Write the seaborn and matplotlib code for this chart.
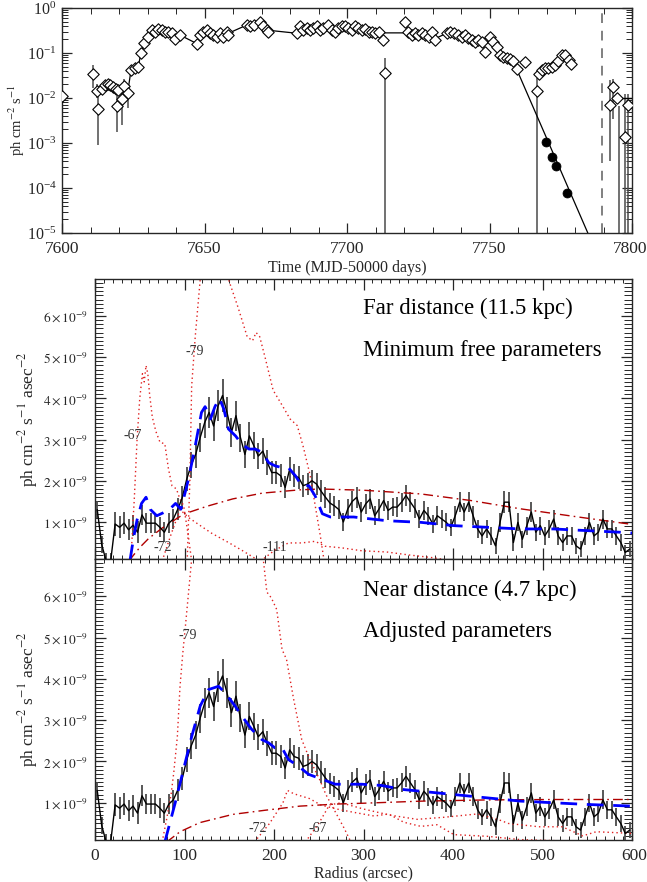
import numpy as np
import pandas as pd
import matplotlib
matplotlib.use("Agg")
import matplotlib.pyplot as plt
import matplotlib.transforms as mtransforms
import seaborn as sns
from matplotlib.ticker import MultipleLocator, FixedLocator, LogLocator, NullFormatter, FixedFormatter

# ---------------- data: light curve (top panel) ----------------
lc_time = [7600.0, 7611.0, 7612.2, 7612.7, 7613.9, 7615.0, 7616.0, 7617.0, 7618.0, 7619.0,
           7619.2, 7619.8, 7621.0, 7621.9, 7623.0, 7624.2, 7625.6, 7626.8, 7627.7, 7628.9,
           7630.1, 7631.7, 7632.6, 7633.8, 7635.0, 7636.1, 7637.3, 7638.5, 7639.7, 7641.4,
           7647.3, 7648.4, 7649.6, 7650.8, 7651.9, 7653.1, 7654.3, 7655.4, 7656.6, 7657.8,
           7658.4, 7664.8, 7666.0, 7667.2, 7669.5, 7670.6, 7671.8, 7672.4, 7682.3, 7683.5,
           7684.7, 7685.8, 7687.0, 7688.2, 7689.4, 7690.5, 7691.7, 7693.5, 7694.6, 7695.8,
           7697.0, 7698.2, 7699.3, 7700.5, 7701.7, 7702.9, 7704.0, 7705.2, 7706.4, 7707.6,
           7708.7, 7709.9, 7711.1, 7712.6, 7713.3, 7720.4, 7721.5, 7722.7, 7723.9, 7725.0,
           7726.2, 7727.4, 7728.6, 7729.7, 7730.9, 7735.0, 7736.2, 7737.4, 7739.1, 7740.3,
           7741.4, 7742.6, 7743.8, 7745.0, 7746.1, 7747.3, 7748.5, 7750.2, 7751.4, 7752.5,
           7753.7, 7754.9, 7756.1, 7757.2, 7758.4, 7759.5, 7762.5, 7766.6, 7767.2, 7768.4,
           7769.5, 7770.7, 7771.9, 7773.1, 7774.2, 7775.4, 7776.6, 7777.8, 7778.6, 7792.3,
           7793.5, 7794.6, 7797.6, 7798.5]
lc_flux = [0.0112, 0.034, 0.0145, 0.0056, 0.0162, 0.019, 0.020, 0.019, 0.0178, 0.0162,
           0.0066, 0.0148, 0.0093, 0.0186, 0.0126, 0.041, 0.046, 0.050, 0.102, 0.17,
           0.23, 0.32, 0.30, 0.34, 0.32, 0.30, 0.30, 0.275, 0.21, 0.25,
           0.162, 0.25, 0.30, 0.32, 0.275, 0.25, 0.23, 0.275, 0.23, 0.30,
           0.25, 0.417, 0.39, 0.417, 0.50, 0.39, 0.32, 0.295, 0.275, 0.39,
           0.32, 0.355, 0.32, 0.355, 0.39, 0.32, 0.355, 0.417, 0.32, 0.295,
           0.355, 0.39, 0.40, 0.355, 0.32, 0.39, 0.355, 0.32, 0.34, 0.295,
           0.295, 0.275, 0.295, 0.195, 0.036, 0.48, 0.295, 0.25, 0.275, 0.25,
           0.275, 0.25, 0.23, 0.295, 0.195, 0.275, 0.295, 0.275, 0.25, 0.23,
           0.25, 0.214, 0.195, 0.178, 0.195, 0.178, 0.107, 0.23, 0.178, 0.138,
           0.091, 0.083, 0.076, 0.072, 0.065, 0.044, 0.062, 0.0145, 0.035, 0.042,
           0.046, 0.046, 0.050, 0.054, 0.065, 0.091, 0.091, 0.069, 0.058, 0.0069,
           0.0178, 0.010, 0.00135, 0.0069]

# error bars drawn in the light curve
err_time = [7600.0, 7611.0, 7612.2, 7612.7, 7619.2, 7621.0, 7621.9, 7623.0, 7713.3, 7766.6,
            7792.3, 7793.5, 7795.6, 7797.6, 7798.5]
err_low = [0.008, 0.017, 0.010, 0.00091, 0.0018, 0.0025, 0.011, 0.006, 1e-6, 1e-6,
           0.00039, 0.0034, 1e-6, 1e-6, 1e-6]
err_high = [0.015, 0.054, 0.020, 0.0105, 0.011, 0.014, 0.027, 0.019, 0.076, 0.0275,
            0.025, 0.027, 0.0065, 0.012, 0.012]

# connecting curve through the light curve (incl. decay)
curve_time = [7612.2, 7614.0, 7617.0, 7620.0, 7622.0, 7623.0, 7624.2, 7626.8, 7627.7, 7628.9,
              7630.1, 7631.7, 7635.0, 7638.5, 7641.4, 7647.3, 7649.6, 7653.0, 7658.4, 7664.8,
              7669.5, 7672.4, 7682.3, 7690.0, 7700.0, 7705.0, 7711.0, 7721.0, 7729.7, 7731.0,
              7735.0, 7745.0, 7750.0, 7754.0, 7758.4, 7759.5, 7784.5]
curve_flux = [0.0145, 0.0162, 0.019, 0.0158, 0.014, 0.0126, 0.041, 0.050, 0.102, 0.17,
              0.23, 0.32, 0.32, 0.275, 0.25, 0.162, 0.30, 0.26, 0.275, 0.417,
              0.45, 0.32, 0.275, 0.34, 0.36, 0.33, 0.28, 0.28, 0.28, 0.21,
              0.275, 0.19, 0.22, 0.10, 0.065, 0.044, 1.0e-5]
tail_time = [7794.6, 7800.0]
tail_flux = [0.010, 0.010]

# filled circles (decay)
dot_time = [7769.8, 7771.8, 7773.2, 7777.3]
dot_flux = [0.00107, 0.00048, 0.00031, 0.000076]

marker_time = 7789.6

# ---------------- data: radial profiles (units of 1e-9) ----------------
profile = [1.30, 0.45, 0.05, 0.05, 0.95, 0.87, 0.97, 0.81, 0.92, 0.75,
           1.17, 0.97, 0.97, 0.97, 0.87, 0.75, 0.97, 1.07, 1.31, 1.59,
           2.04, 2.38, 2.64, 3.05, 3.41, 3.66, 3.33, 3.82, 4.07, 3.66,
           3.18, 3.58, 3.05, 2.64, 3.09, 2.85, 2.60, 2.72, 2.44, 2.20,
           2.20, 2.12, 1.84, 2.28, 2.12, 2.08, 1.88, 1.92, 2.00, 1.92,
           1.75, 1.60, 1.46, 1.39, 1.30, 1.00, 1.32, 1.50, 1.60,
           1.24, 1.44, 1.56, 1.15, 1.32, 1.52, 1.28, 1.36, 1.36, 1.48,
           1.64, 1.48, 1.32, 1.07, 1.28, 1.15, 0.95, 1.15, 1.07, 0.99,
           0.87, 1.15, 1.48, 1.24, 1.48, 1.15, 0.83, 0.66, 0.83, 0.66,
           0.42, 0.99, 1.48, 1.48, 0.50, 0.99, 0.58, 0.91, 1.24, 0.75,
           0.91, 0.66, 0.83, 1.07, 0.66, 0.50, 0.66, 0.66, 0.42, 0.34,
           0.66, 0.99, 0.66, 0.75, 1.07, 0.83, 0.83, 0.66, 0.50, 0.26,
           0.34]
profile_err = [0.20, 0.20, 0.20, 0.20, 0.28, 0.27, 0.27, 0.26, 0.26, 0.27,
               0.25, 0.25, 0.25, 0.24, 0.24, 0.24, 0.24, 0.25, 0.26, 0.28,
               0.30, 0.32, 0.33, 0.35, 0.36, 0.37, 0.36, 0.38, 0.40, 0.37,
               0.35, 0.36, 0.34, 0.32, 0.34, 0.33, 0.31, 0.32, 0.30, 0.29,
               0.29, 0.28, 0.27, 0.29, 0.28, 0.28, 0.27, 0.27, 0.27, 0.27,
               0.26, 0.25, 0.25, 0.25, 0.24, 0.22, 0.24, 0.25, 0.25,
               0.24, 0.25, 0.24, 0.23, 0.24, 0.25, 0.23, 0.22, 0.24, 0.23,
               0.25, 0.24, 0.23, 0.22, 0.24, 0.22, 0.21, 0.23, 0.22, 0.22,
               0.21, 0.23, 0.25, 0.22, 0.24, 0.23, 0.21, 0.20, 0.22, 0.21,
               0.20, 0.23, 0.26, 0.25, 0.21, 0.22, 0.21, 0.22, 0.24, 0.21,
               0.22, 0.21, 0.22, 0.23, 0.21, 0.20, 0.21, 0.21, 0.20, 0.19,
               0.21, 0.22, 0.21, 0.21, 0.23, 0.22, 0.21, 0.21, 0.20, 0.19,
               0.19]
radius = np.arange(2.5, 600.0, 5.0)

# far-distance model (middle panel)
far_total_r = [39, 43, 47, 52, 57, 62, 69, 76, 83, 90, 96, 104.5, 112, 119, 123, 129, 134, 139,
               144, 149, 157, 164, 172, 179, 187, 194, 201.5, 209, 216, 224, 231, 239, 246, 254,
               263, 289, 326, 364, 401, 438, 475, 512, 549, 587, 600]
far_total_v = [0.05, 0.6, 1.05, 1.45, 1.6, 1.3, 1.15, 1.22, 1.3, 1.45, 1.31, 2.04, 2.85, 3.66,
               3.8, 3.5, 3.8, 4.0, 3.74, 3.26, 3.09, 2.89, 2.77, 2.77, 2.69, 2.44, 2.36, 2.32,
               2.32, 2.12, 1.88, 1.88, 1.63, 1.2, 1.12, 1.12, 1.03, 0.99, 0.91, 0.87, 0.83, 0.83,
               0.79, 0.75, 0.73]
far_bg_r = [38, 42.5, 50, 60, 75, 99, 125, 154, 187, 229, 252, 300, 364, 420, 475, 540, 600]
far_bg_v = [0.05, 0.18, 0.38, 0.6, 0.85, 1.19, 1.38, 1.56, 1.7, 1.78, 1.8, 1.77, 1.68, 1.52,
            1.32, 1.12, 0.94]
far_c67_r = [40, 44, 47, 50, 53, 55, 57, 59, 61, 64, 68, 72.7, 78, 82, 86, 91, 95, 99, 104, 108]
far_c67_v = [0.05, 1.6, 3.0, 4.0, 4.6, 4.4, 4.8, 4.6, 4.1, 3.55, 3.2, 2.93, 2.9, 2.3, 1.88,
             1.8, 1.55, 1.4, 0.7, 0.05]
far_c79_r = [103, 106, 108, 112, 116, 120, 130, 140, 149, 160, 170, 176, 180, 184, 190, 199,
             210, 218, 226, 233, 240.5, 246, 251.7, 256]
far_c79_v = [0.05, 2.0, 4.3, 5.5, 6.5, 7.5, 8.8, 8.5, 6.9, 6.2, 5.5, 5.4, 5.6, 5.5, 5.0, 4.2,
             3.8, 3.5, 3.34, 2.8, 2.12, 1.4, 0.67, 0.05]
far_c72_r = [75, 85, 95, 105, 115, 130, 150, 165, 180]
far_c72_v = [0.05, 0.7, 1.3, 1.1, 0.95, 0.73, 0.49, 0.3, 0.1]
far_c111_r = [185, 200, 216, 231, 246, 257, 276, 298, 326, 350, 378, 401]
far_c111_v = [0.05, 0.3, 0.49, 0.49, 0.53, 0.41, 0.37, 0.3, 0.27, 0.2, 0.13, 0.05]

# near-distance model (bottom panel)
near_total_r = [78, 89.5, 98.8, 108, 117.5, 126.8, 138, 145.4, 156.6, 164, 175, 186.4, 194, 201,
                209, 216, 227, 238.6, 253.5, 268.5, 283, 298, 320, 345, 364, 401, 438, 476, 513,
                550, 600]
near_total_v = [0.05, 0.99, 1.8, 2.6, 3.34, 3.74, 3.82, 3.66, 3.34, 3.1, 2.78, 2.53, 2.45, 2.33,
                2.33, 2.05, 1.89, 1.69, 1.57, 1.45, 1.45, 1.45, 1.42, 1.32, 1.28, 1.2, 1.12,
                1.04, 1.0, 0.96, 0.92]
near_bg_r = [80, 95, 117, 154, 190, 229, 270, 300, 364, 438, 513, 600]
near_bg_v = [0.05, 0.3, 0.52, 0.72, 0.82, 0.92, 0.97, 0.99, 1.04, 1.07, 1.08, 1.08]
near_c79_r = [75, 80, 85, 88, 92, 95, 98, 101, 105, 108, 115, 130, 150, 170, 185, 188, 192, 197,
              203, 209, 214, 222, 231, 240, 251, 258, 268, 278, 286]
near_c79_v = [0.05, 0.6, 1.2, 1.73, 2.6, 3.82, 4.6, 5.27, 6.2, 6.9, 8.0, 9.0, 9.5, 9.0, 7.5,
              6.9, 6.1, 5.96, 5.68, 4.71, 4.47, 3.5, 2.53, 2.05, 1.56, 1.2, 0.8, 0.4, 0.05]
near_c72_r = [178, 195, 210, 215, 222, 240, 252, 270, 289, 312, 328, 345, 364, 382, 401, 438,
              475, 520, 560, 600]
near_c72_v = [0.05, 0.5, 1.0, 1.3, 1.22, 1.1, 0.95, 0.85, 0.77, 0.68, 0.73, 0.53, 0.43, 0.47,
              0.23, 0.19, 0.11, 0.08, 0.06, 0.05]
near_c67_r = [235, 250, 262, 275, 300, 330, 360, 390, 427, 450, 462, 496, 522, 545, 560, 580,
              600]
near_c67_v = [0.05, 0.5, 0.95, 1.0, 0.85, 0.7, 0.6, 0.65, 0.73, 0.6, 0.5, 0.42, 0.42, 0.2, 0.3,
              0.28, 0.26]

prof_ticks = [1, 2, 3, 4, 5, 6]
prof_ticklabels = [r'$%d\times10^{-9}$' % v for v in prof_ticks]

# ---------------- styling ----------------
sns.set_style("ticks")
plt.rcParams['font.family'] = ['Liberation Serif', 'DejaVu Serif']
plt.rcParams['mathtext.fontset'] = 'stix'
plt.rcParams['axes.linewidth'] = 1.0

W, H = 647, 882
fig = plt.figure(figsize=(W / 100, H / 100), dpi=100)
ax1 = fig.add_axes([62 / W, 1 - 233 / H, 570 / W, 225 / H])
ax2 = fig.add_axes([95 / W, 1 - 559 / H, 537 / W, 280 / H])
ax3 = fig.add_axes([95 / W, 1 - 840 / H, 537 / W, 281 / H])

BLACK = '#000000'
ERRC = '#4a4a4a'

# ---------------- top panel ----------------
ax1.set_yscale('log')
ax1.vlines(err_time, err_low, err_high, color=ERRC, lw=1.1, zorder=2)
sns.lineplot(x=curve_time, y=curve_flux, ax=ax1, color=BLACK, lw=0.9, sort=False,
             estimator=None, zorder=3)
sns.lineplot(x=tail_time, y=tail_flux, ax=ax1, color=BLACK, lw=0.9, sort=False,
             estimator=None, zorder=3)
sns.scatterplot(x=lc_time, y=lc_flux, ax=ax1, marker='D', s=34, facecolor='white',
                edgecolor=BLACK, linewidth=0.8, zorder=4)
sns.scatterplot(x=dot_time, y=dot_flux, ax=ax1, marker='o', s=42, color=BLACK,
                edgecolor=BLACK, zorder=5)
ax1.axvline(marker_time, color='#808080', lw=1.4, ls=(0, (5, 4)), zorder=1)
ax1.set_xlim(7600, 7800)
ax1.set_ylim(1e-5, 1.0)
ax1.xaxis.set_major_locator(MultipleLocator(50))
ax1.xaxis.set_minor_locator(MultipleLocator(10))
ax1.yaxis.set_major_locator(LogLocator(base=10, numticks=10))
ax1.yaxis.set_minor_locator(LogLocator(base=10, subs=np.arange(2, 10), numticks=20))
ax1.yaxis.set_minor_formatter(NullFormatter())
ax1.set_xlabel('Time (MJD-50000 days)', fontsize=11.5, labelpad=2)
ax1.set_ylabel(r'ph cm$^{-2}$ s$^{-1}$', fontsize=10.5)
ax1.yaxis.set_label_coords(-(62 - 27) / 570, 0.5)
ax1.tick_params(which='both', direction='in', top=True, right=True)
ax1.tick_params(axis='x', labelsize=12.5, pad=6)
ax1.tick_params(axis='y', labelsize=11.5, pad=4)
ax1.tick_params(which='major', length=7, width=0.9)
ax1.tick_params(which='minor', length=4, width=0.7)

# ---------------- profile panels ----------------
def profile_panel(ax, total_r, total_v, bg_r, bg_v, comps, labels, texts):
    ax.vlines(radius, np.array(profile) - np.array(profile_err),
              np.array(profile) + np.array(profile_err), color=ERRC, lw=1.3, zorder=2)
    sns.lineplot(x=radius, y=profile, ax=ax, color=BLACK, lw=1.0, estimator=None, zorder=3)
    for cr, cv in comps:
        sns.lineplot(x=cr, y=cv, ax=ax, color='#e02020', lw=1.0, ls=(0, (1, 2.2)),
                     estimator=None, zorder=2)
    sns.lineplot(x=bg_r, y=bg_v, ax=ax, color='#b00000', lw=1.0, ls=(0, (7, 3, 1.2, 3)),
                 estimator=None, zorder=2)
    sns.lineplot(x=total_r, y=total_v, ax=ax, color='#0000ff', lw=2.0, ls=(0, (6, 3.5)),
                 estimator=None, zorder=4)
    for (lx, ly, s) in labels:
        ax.text(lx, ly, s, fontsize=10, color='#333333', ha='center', va='center')
    for (tx, ty, s) in texts:
        ax.text(tx, ty, s, fontsize=16.5, color=BLACK, ha='left', va='center')
    ax.set_xlim(0, 600)
    ax.set_ylim(0.1, 6.9)
    ax.xaxis.set_major_locator(MultipleLocator(100))
    ax.xaxis.set_minor_locator(MultipleLocator(10))
    ax.yaxis.set_major_locator(FixedLocator(prof_ticks))
    ax.yaxis.set_major_formatter(FixedFormatter(prof_ticklabels))
    ax.yaxis.set_minor_locator(MultipleLocator(0.1))
    ax.set_ylabel(r'ph cm$^{-2}$ s$^{-1}$ asec$^{-2}$', fontsize=12.5)
    ax.yaxis.set_label_coords(-(95 - 40) / 537, 0.5)
    ax.tick_params(which='both', direction='in', top=True, right=True)
    ax.tick_params(axis='x', labelsize=12.5, pad=6)
    ax.tick_params(axis='y', labelsize=9.5, pad=5)
    ax.tick_params(which='major', length=8, width=0.9)
    ax.tick_params(which='minor', length=3, width=0.7)
    ax.tick_params(axis='y', which='minor', left=True, length=6)

profile_panel(ax2, far_total_r, far_total_v, far_bg_r, far_bg_v,
              [(far_c67_r, far_c67_v), (far_c79_r, far_c79_v), (far_c72_r, far_c72_v),
               (far_c111_r, far_c111_v)],
              [(42.5, 3.09, '-67'), (112, 5.13, '-79'), (76, 0.39, '-72'), (201, 0.39, '-111')],
              [(299, 6.19, 'Far distance (11.5 kpc)'), (299, 5.16, 'Minimum free parameters')])
profile_panel(ax3, near_total_r, near_total_v, near_bg_r, near_bg_v,
              [(near_c79_r, near_c79_v), (near_c72_r, near_c72_v), (near_c67_r, near_c67_v)],
              [(104, 5.05, '-79'), (182, 0.38, '-72'), (249, 0.38, '-67')],
              [(299, 6.15, 'Near distance (4.7 kpc)'), (299, 5.15, 'Adjusted parameters')])
ax2.tick_params(axis='x', labelbottom=False)
ax2.set_xlabel('')
ax3.set_xlabel('Radius (arcsec)', fontsize=11.5, labelpad=1)

# keep the right-most tick labels inside the figure
fig.canvas.draw()
for ax, lab_text in ((ax1, '7800'), (ax3, '600')):
    for tick in ax.xaxis.get_major_ticks():
        if tick.label1.get_text() == lab_text:
            tick.label1.set_horizontalalignment('right')
            tick.label1.set_transform(tick.label1.get_transform() +
                                      mtransforms.ScaledTranslation(0.15, 0, fig.dpi_scale_trans))

fig.savefig('out.png', dpi=100)
